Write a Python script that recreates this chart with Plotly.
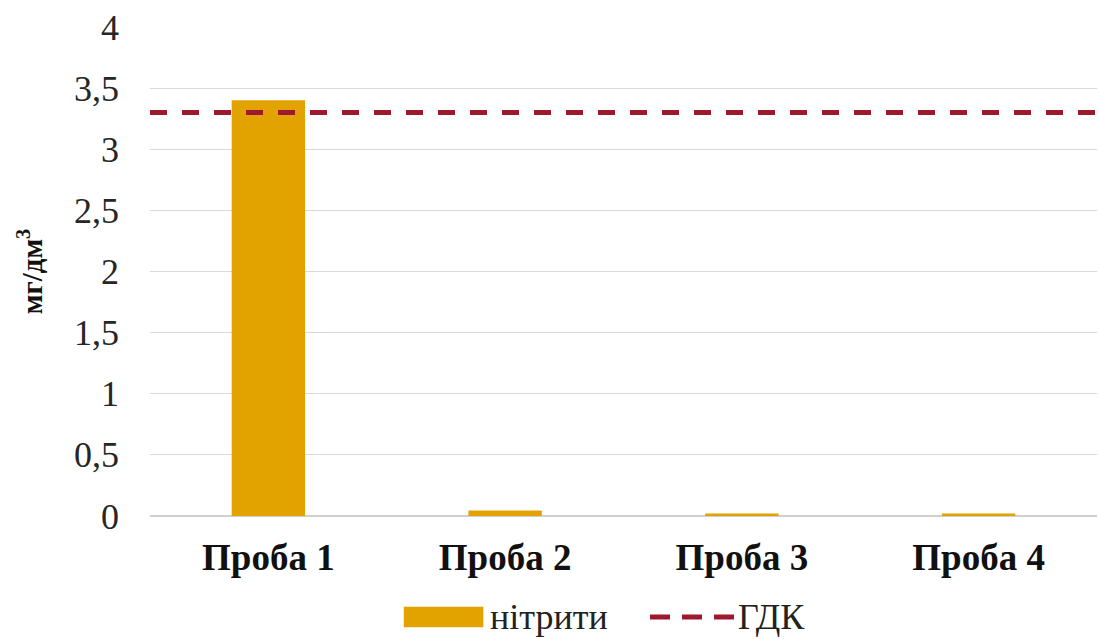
import plotly.graph_objects as go

# Nitrite concentration per sample, mg/dm³
categories = ["Проба 1", "Проба 2", "Проба 3", "Проба 4"]
nitrites = [3.40, 0.045, 0.02, 0.02]
mac_level = 3.3  # ГДК (maximum allowable concentration)
y_ticks = [0, 0.5, 1, 1.5, 2, 2.5, 3, 3.5, 4]
y_tick_text = ["0", "0,5", "1", "1,5", "2", "2,5", "3", "3,5", "4"]
legend_labels = ["нітрити", "ГДК"]

bar_color = "#E2A300"
line_color = "#A01830"
serif = "Liberation Serif"
dash_pattern = "17px,15px"

fig = go.Figure()

fig.add_trace(go.Bar(
    x=categories, y=nitrites, name=legend_labels[0],
    marker=dict(color=bar_color, line=dict(width=0)),
    width=0.31, showlegend=False,
))

# ГДК reference line spanning the full plot width
fig.add_trace(go.Scatter(
    x=[0, 1], y=[mac_level, mac_level], mode="lines", name=legend_labels[1],
    xaxis="x2", line=dict(color=line_color, width=5, dash=dash_pattern),
    hoverinfo="skip", showlegend=False,
))

# Legend below the plot: wide swatch + dashed sample, with labels
legend_y = -0.2065
fig.add_shape(type="rect", xref="paper", yref="paper",
              x0=0.268, x1=0.352, y0=legend_y - 0.021, y1=legend_y + 0.021,
              fillcolor=bar_color, line=dict(width=0))
fig.add_shape(type="line", xref="paper", yref="paper",
              x0=0.528, x1=0.618, y0=legend_y, y1=legend_y,
              line=dict(color=line_color, width=5, dash="20px,12px"))
fig.add_annotation(xref="paper", yref="paper", x=0.357, y=legend_y,
                   xanchor="left", yanchor="middle", showarrow=False,
                   text=legend_labels[0],
                   font=dict(size=36, family=serif, color="#222222"))
fig.add_annotation(xref="paper", yref="paper", x=0.619, y=legend_y,
                   xanchor="left", yanchor="middle", showarrow=False,
                   text=legend_labels[1],
                   font=dict(size=36, family=serif, color="#222222"))

fig.update_layout(
    width=1099, height=639,
    margin=dict(l=150, r=2, t=27, b=123),
    plot_bgcolor="white", paper_bgcolor="white",
    font=dict(family=serif, color="#222222"),
    showlegend=False,
    xaxis=dict(
        type="category", range=[-0.5, 3.5],
        tickvals=categories,
        ticktext=[f"<b>{c}</b>" for c in categories],
        tickfont=dict(size=37, family=serif, color="#111111"),
        showgrid=False, showline=False, ticks="",
        ticklabelstandoff=16,
    ),
    xaxis2=dict(
        overlaying="x", range=[0, 1], visible=False,
    ),
    yaxis=dict(
        range=[0, 4], tickvals=y_ticks, ticktext=y_tick_text,
        tickfont=dict(size=36, family=serif, color="#262626"),
        showgrid=True, gridcolor="#d9d9d9", gridwidth=1,
        zeroline=True, zerolinecolor="#d0d0d0", zerolinewidth=1.5,
        ticks="", ticklabelstandoff=30,
        title=dict(text="<b>мг/дм<sup>3</sup></b>",
                   font=dict(size=29, family=serif, color="#111111"),
                   standoff=22),
    ),
)

fig.write_html("out.html")
